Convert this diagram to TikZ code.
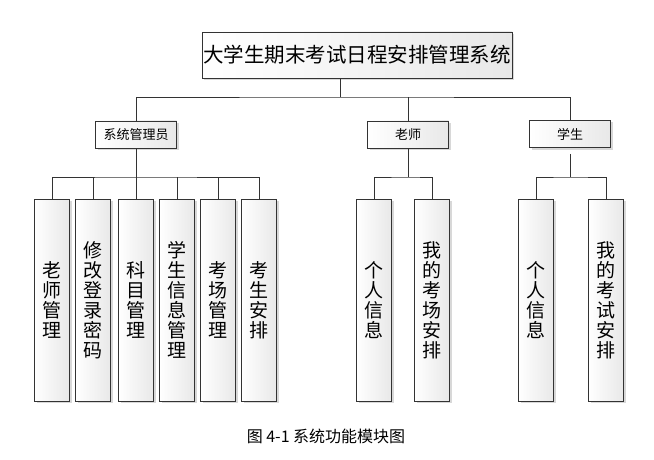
\documentclass[tikz,border=0pt]{standalone}
\usepackage{fontspec}
\newfontfamily\cjk{Noto Sans CJK SC}
\usetikzlibrary{shadows}
\tikzset{
  conn/.style={draw=black!80, line width=0.8pt},
  box/.style={draw=black!80, line width=0.8pt, left color=white, right color=black!9,
    drop shadow={shadow xshift=2pt, shadow yshift=-2pt, fill=black!30, opacity=0.5}, inner sep=0pt},
  hbox/.style={box, minimum width=81pt, minimum height=27pt, font=\cjk\fontsize{13}{15}\selectfont},
  vbox/.style={box, minimum width=35pt, minimum height=202pt, align=center, font=\cjk\fontsize{19}{20}\selectfont},
}
\begin{document}
\begin{tikzpicture}[x=1pt,y=-1pt]
\useasboundingbox (0,0) rectangle (654,460);
% root
\node[box, minimum width=310pt, minimum height=46pt, font=\cjk\fontsize{20.5}{24}\selectfont] (root) at (357,55) {大学生期末考试日程安排管理系统};
% second level
\node[hbox] (admin) at (136,134.5) {系统管理员};
\node[hbox] (teacher) at (408,134.5) {老师};
\node[hbox] (student) at (570,134) {学生};
% admin children
\node[vbox] (a1) at (52,300) {老\\师\\管\\理};
\node[vbox] (a2) at (93,300) {修\\改\\登\\录\\密\\码};
\node[vbox] (a3) at (136,300) {科\\目\\管\\理};
\node[vbox] (a4) at (177,300) {学\\生\\信\\息\\管\\理};
\node[vbox] (a5) at (218,300) {考\\场\\管\\理};
\node[vbox] (a6) at (259,300) {考\\生\\安\\排};
% teacher children
\node[vbox] (t1) at (374,300) {个\\人\\信\\息};
\node[vbox] (t2) at (432,300) {我\\的\\考\\场\\安\\排};
% student children
\node[vbox] (s1) at (536,300) {个\\人\\信\\息};
\node[vbox] (s2) at (606,300) {我\\的\\考\\试\\安\\排};
% bus coordinates
\coordinate (b0) at (340,97);
\coordinate (ab) at (136,177);
\coordinate (tb) at (408,177);
\coordinate (sb) at (570,177);
% level 1 connectors
\draw[conn] (root.south -| b0) -- (b0);
\draw[conn] (admin.north) |- (b0) -| (student.north);
\draw[conn] (teacher.north) -- (teacher.north |- b0);
% admin connectors
\draw[conn] (admin.south) -- (ab);
\draw[conn] (a1.north) |- (ab) -| (a6.north);
\foreach \n in {a2,a3,a4,a5} \draw[conn] (\n.north) -- (\n.north |- ab);
% teacher connectors
\draw[conn] (teacher.south) -- (tb);
\draw[conn] (t1.north) |- (tb) -| (t2.north);
% student connectors
\draw[conn] ([yshift=-6pt]student.south) -- (sb);
\draw[conn] (s1.north) |- (sb) -| (s2.north);
% caption
\node[font=\cjk\fontsize{16}{18}\selectfont, inner sep=0pt] (cap) at (326,436) {图 4-1 系统功能模块图};
\end{tikzpicture}
\end{document}
